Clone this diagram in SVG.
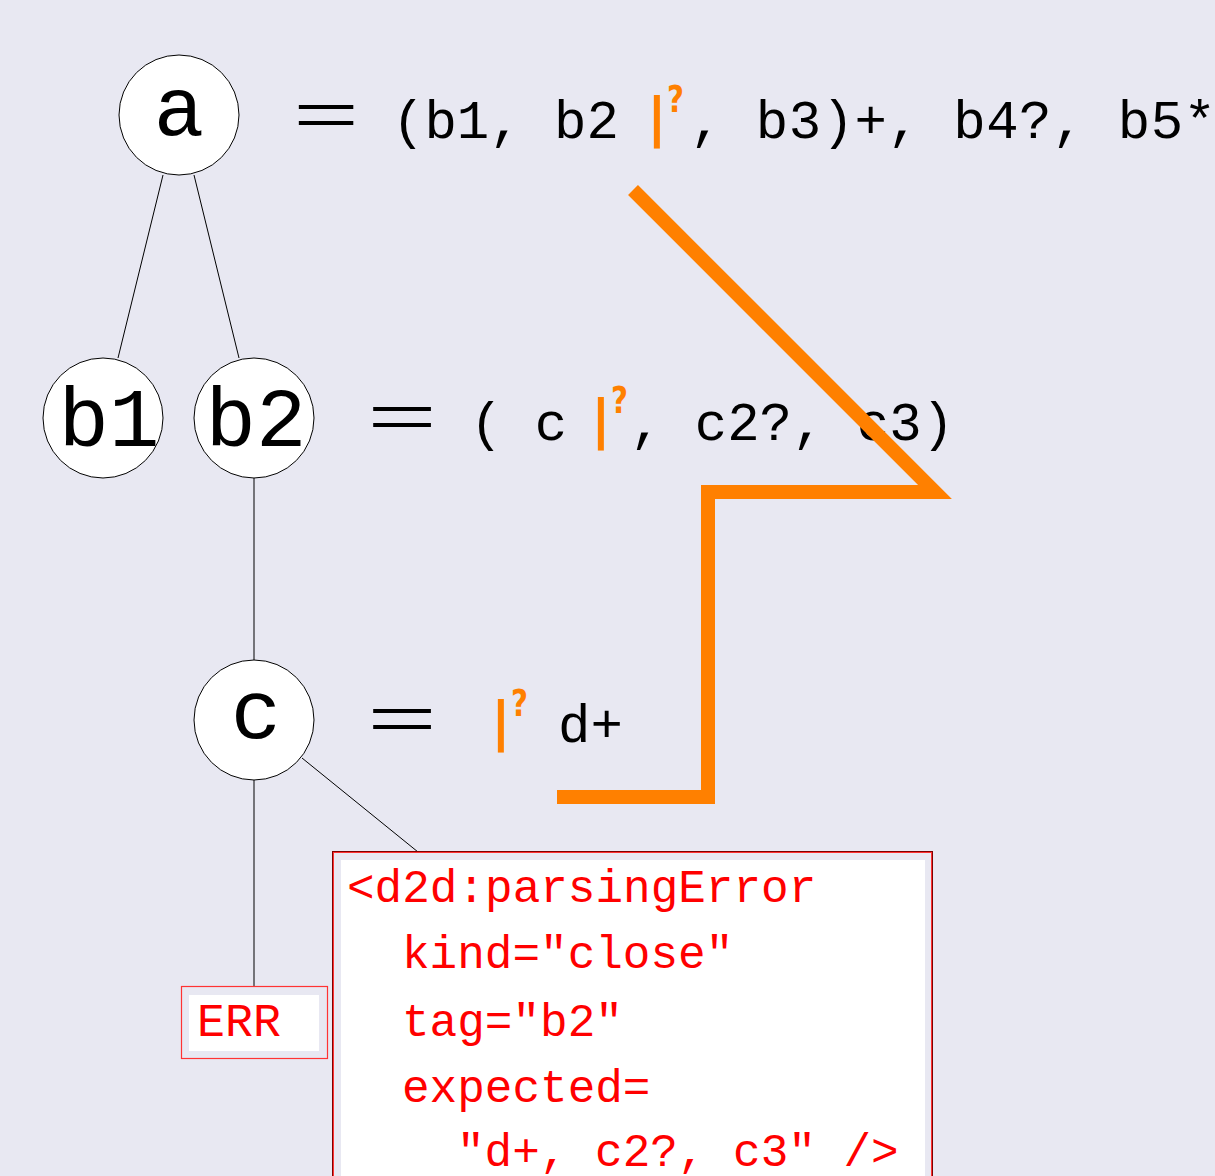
<svg xmlns="http://www.w3.org/2000/svg" width="1215" height="1176" viewBox="0 0 1215 1176">
<style>
.bg{fill:#e8e8f2}
.node circle{fill:#ffffff;stroke:#000000;stroke-width:1}
.lbl{font-family:"Liberation Mono","DejaVu Sans Mono",monospace;font-size:84px;fill:#000000}
.eq{font-family:"Liberation Mono","DejaVu Sans Mono",monospace;font-size:54px;fill:#000000}
.eqs{font-family:"Liberation Serif","DejaVu Serif",serif;font-size:80px;fill:#000000}
.bar{font-family:"DejaVu Sans",sans-serif;font-weight:bold;font-size:54px;fill:#ff8000}
.q{font-family:"DejaVu Sans",sans-serif;font-weight:bold;font-size:38px;fill:#ff8000}
.err{font-family:"Liberation Mono","DejaVu Sans Mono",monospace;font-size:46px;fill:#ff0000}
#edges line{stroke:#000000;stroke-width:1}
</style>
<rect class="bg" x="0" y="0" width="1215" height="1176"/>
<g id="edges">
<line x1="163" y1="175" x2="118" y2="358"/>
<line x1="194" y1="175" x2="239" y2="358"/>
<line x1="254" y1="478" x2="254" y2="660"/>
<line x1="254" y1="780" x2="254" y2="986"/>
<line x1="302" y1="758" x2="418" y2="852"/>
</g>
<g id="node-a" class="node"><circle cx="179" cy="115" r="60"/><text class="lbl" x="179" y="135" text-anchor="middle">a</text></g>
<g id="node-b1" class="node"><circle cx="103" cy="418" r="60"/><text class="lbl" x="109" y="446" text-anchor="middle">b1</text></g>
<g id="node-b2" class="node"><circle cx="254" cy="418" r="60"/><text class="lbl" x="256" y="446" text-anchor="middle">b2</text></g>
<g id="node-c" class="node"><circle cx="254" cy="720" r="60"/><text class="lbl" x="256" y="738" text-anchor="middle">c</text></g>
<g id="eq-a">
<text class="eqs" x="293" y="142" textLength="66" lengthAdjust="spacingAndGlyphs">=</text>
<text class="eq" x="392" y="138">(b1, b2</text>
<text class="bar" x="647" y="136">|</text>
<text class="q" x="667" y="112" textLength="17" lengthAdjust="spacingAndGlyphs">?</text>
<text class="eq" x="690" y="138" textLength="526" lengthAdjust="spacing">, b3)+, b4?, b5*</text>
</g>
<g id="eq-b2">
<text class="eqs" x="367" y="444" textLength="70" lengthAdjust="spacingAndGlyphs">=</text>
<text class="eq" x="470" y="440">( c</text>
<text class="bar" x="591" y="438">|</text>
<text class="q" x="611" y="413" textLength="17" lengthAdjust="spacingAndGlyphs">?</text>
<text class="eq" x="630" y="440">, c2?, c3)</text>
</g>
<g id="eq-c">
<text class="eqs" x="367" y="746" textLength="70" lengthAdjust="spacingAndGlyphs">=</text>
<text class="bar" x="491" y="740">|</text>
<text class="q" x="511" y="716" textLength="17" lengthAdjust="spacingAndGlyphs">?</text>
<text class="eq" x="558" y="742">d+</text>
</g>
<g id="path">
<polyline points="633,190 935,492 708,492 708,797 557,797" fill="none" stroke="#ff8000" stroke-width="14" stroke-linejoin="miter" stroke-miterlimit="10"/>
</g>
<g id="node-err">
<rect x="181.5" y="986.5" width="146" height="72" fill="#e8e8f2" stroke="#ff3333" stroke-width="1.2"/>
<rect x="189" y="995" width="130" height="56" fill="#ffffff"/>
<text class="err" x="197" y="1036" textLength="84" lengthAdjust="spacingAndGlyphs">ERR</text>
</g>
<g id="node-msg">
<rect x="332.5" y="851.5" width="600" height="340" fill="#e8e8f2" stroke="#800000" stroke-width="1"/>
<rect x="333.5" y="852.5" width="598" height="340" fill="none" stroke="#ff3333" stroke-width="1"/>
<rect x="341" y="860" width="584" height="330" fill="#ffffff"/>
<text class="err" x="347" y="902">&lt;d2d:parsingError</text>
<text class="err" x="402" y="968">kind="close"</text>
<text class="err" x="402" y="1036">tag="b2"</text>
<text class="err" x="402" y="1102">expected=</text>
<text class="err" x="457" y="1166">"d+, c2?, c3" /&gt;</text>
</g>
</svg>
